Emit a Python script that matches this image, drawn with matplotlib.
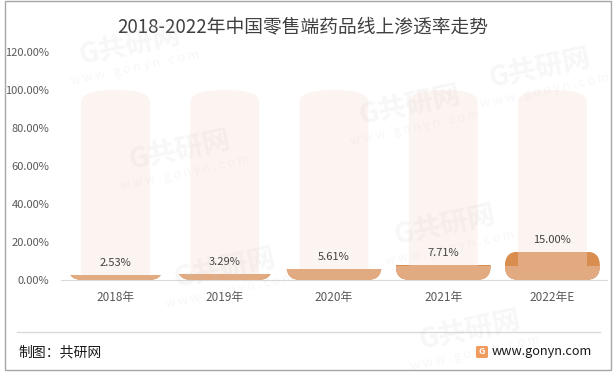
import numpy as np
import matplotlib.pyplot as plt
from matplotlib.patches import FancyBboxPatch, Rectangle

plt.rcParams['font.family'] = ['Noto Sans CJK SC', 'DejaVu Sans']

# 数据
years = ['2018年', '2019年', '2020年', '2021年', '2022年E']
rates = [2.53, 3.29, 5.61, 7.71, 15.00]
full_rate = [100, 100, 100, 100, 100]   # 背景柱
y_ticks = [0, 20, 40, 60, 80, 100, 120]
title = '2018-2022年中国零售端药品线上渗透率走势'

W, H = 616, 373
fig = plt.figure(figsize=(W / 100, H / 100), dpi=100)
ax = fig.add_axes([61 / W, 1 - 280 / H, 546 / W, 228 / H])
ax.set_xlim(-0.5, len(years) - 0.5)
ax.set_ylim(0, 120)

# 每像素对应的数据单位
ux = len(years) / 546
uy = 120 / 228

x = np.arange(len(years))
bg_w = 0.63
bar_w = 0.87
R = 14      # 圆角半径(px)
top_r = 12  # 背景柱顶部椭圆高度(px)

light = '#e2aa80'
dark = '#d98d4f'

for xi, v, full in zip(x, rates, full_rate):
    # 背景柱
    bg = FancyBboxPatch((xi - bg_w / 2, -30), bg_w, full + 30,
                        boxstyle=f'round,pad=0,rounding_size={bg_w / 2}',
                        mutation_aspect=(top_r * uy) / (bg_w / 2),
                        fc='#fcf4f0', ec='none', zorder=1)
    ax.add_patch(bg)

    h = max(v, 2 * R * uy)
    clip_all = Rectangle((xi - bar_w / 2, 0), bar_w, v, transform=ax.transData)
    clip_low = Rectangle((xi - bar_w / 2, 0), bar_w, min(v, R * uy), transform=ax.transData)

    p1 = FancyBboxPatch((xi - bar_w / 2, 0), bar_w, h,
                        boxstyle=f'round,pad=0,rounding_size={R * ux}',
                        mutation_aspect=uy / ux, fc=dark, ec='none', zorder=2)
    ax.add_patch(p1)
    p1.set_clip_path(clip_all)

    p2 = FancyBboxPatch((xi - bar_w / 2, 0), bar_w, h,
                        boxstyle=f'round,pad=0,rounding_size={R * ux}',
                        mutation_aspect=uy / ux, fc=light, ec='none', zorder=3)
    ax.add_patch(p2)
    p2.set_clip_path(clip_low)

    ax.bar(xi, v, width=bg_w, color=light, zorder=3)

    ax.annotate(f'{v:.2f}%', (xi, v), xytext=(0, 5), textcoords='offset points',
                ha='center', va='bottom', fontsize=8, color='#404040', zorder=5)

ax.set_yticks(y_ticks)
ax.set_yticklabels([f'{t:.2f}%' for t in y_ticks])
ax.set_xticks(x)
ax.set_xticklabels(years)
ax.tick_params(axis='y', length=0, pad=8.5, labelsize=8, labelcolor='#595959')
ax.tick_params(axis='x', length=0, pad=8, labelsize=8.5, labelcolor='#595959')
for s in ['left', 'top', 'right']:
    ax.spines[s].set_visible(False)
ax.spines['bottom'].set_color('#d9d9d9')
ax.spines['bottom'].set_zorder(4)

fig.text(303 / W, 1 - 27 / H, title, fontsize=13.5, color='#404040',
         ha='center', va='center')

# 底部
fig.add_artist(plt.Line2D([17 / W, 600 / W], [1 - 332 / H, 1 - 332 / H],
                          color='#d9d9d9', lw=1))
fig.text(18 / W, 1 - 352 / H, '制图：共研网', fontsize=10, color='#1a1a1a',
         ha='left', va='center')
fig.text(592 / W, 1 - 352 / H, 'www.gonyn.com', fontsize=9.2, color='#1a1a1a',
         ha='right', va='center')
fig.add_artist(FancyBboxPatch((476 / W, 1 - 358 / H), 12 / W, 12 / H,
                              boxstyle='round,pad=0,rounding_size=0.003',
                              fc='#f29a5c', ec='none', transform=fig.transFigure))
fig.text(482 / W, 1 - 352 / H, 'G', fontsize=6.5, color='white', fontweight='bold',
         ha='center', va='center')

# 水印
marks = [(130, 45), (180, 150), (410, 105), (225, 268), (445, 225), (470, 330),
         (540, 68)]
ang = 12
for mx, my in marks:
    fig.text(mx / W, 1 - my / H, 'G共研网', fontsize=20, fontweight='bold',
             color='#c8c8c8', alpha=0.14, rotation=ang, ha='center', va='center',
             zorder=10)
    d = 24
    ux_ = mx + d * np.sin(np.radians(ang))
    uy_ = my + d * np.cos(np.radians(ang))
    fig.text(ux_ / W, 1 - uy_ / H, 'w w w . g o n y n . c o m', fontsize=9,
             color='#c8c8c8', alpha=0.14, rotation=ang, ha='center', va='center',
             zorder=10)

# 外边框
fig.add_artist(Rectangle((5 / W, 3 / H), 606 / W, 369 / H, fill=False,
                         ec='#a6a6a6', lw=1, transform=fig.transFigure))

fig.savefig('out.png', dpi=100)
